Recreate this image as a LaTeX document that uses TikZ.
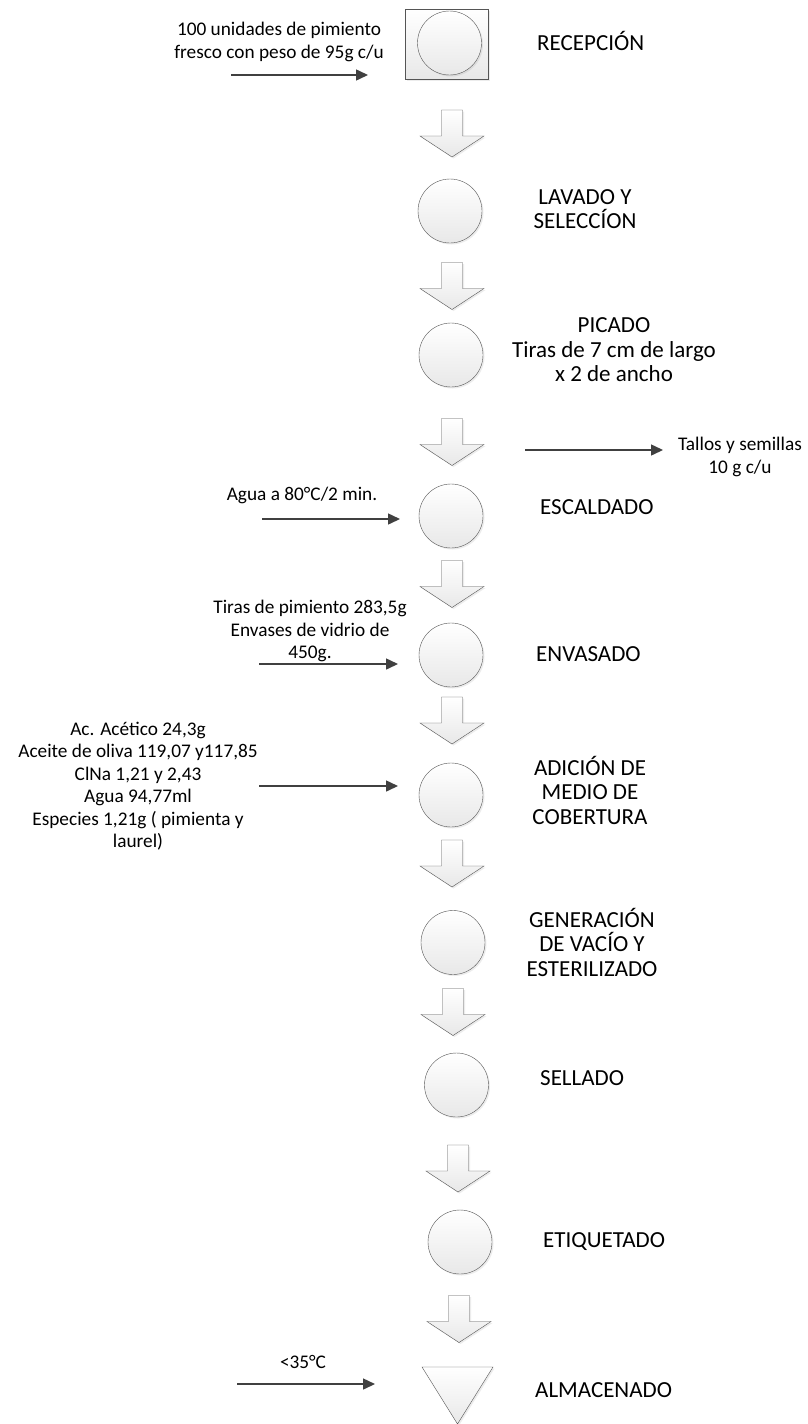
\documentclass[tikz,border=0pt]{standalone}
\usepackage{fontspec}
\setmainfont{Carlito}
\usepackage{tikz}
\usetikzlibrary{shapes,arrows,arrows.meta,calc,shadows}
\definecolor{linea}{HTML}{404040}
\definecolor{borde}{HTML}{555555}
\tikzstyle{line} = [draw=linea, line width=1.5pt, -{Triangle[length=12pt, width=11pt]}]
\tikzstyle{proc} = [draw=borde, circle, minimum size=64pt, inner sep=0pt, top color=white, bottom color=black!9, drop shadow={opacity=0.15, shadow xshift=1.5pt, shadow yshift=-1.5pt}]
\tikzstyle{caja} = [draw=borde, rectangle, minimum width=83pt, minimum height=70pt, top color=white, bottom color=black!9, drop shadow={opacity=0.15, shadow xshift=1.5pt, shadow yshift=-1.5pt}]
\tikzstyle{bloque} = [draw=borde, top color=white, bottom color=black!9, drop shadow={opacity=0.15, shadow xshift=1.5pt, shadow yshift=-1.5pt}]
\tikzstyle{etapa} = [font=\fontsize{23}{24.5}\selectfont, align=center, inner sep=0pt]
\tikzstyle{dato} = [font=\fontsize{19.3}{22.5}\selectfont, align=center, inner sep=0pt]
% flecha de bloque hacia abajo
\newcommand{\flecha}[1]{\path[bloque] (#1) ++(-10.5,-23.5) -- ++(21,0) -- ++(0,26) -- ++(21.5,0) -- ++(-32,21) -- ++(-32,-21) -- ++(21.5,0) -- cycle;}

\begin{document}
\begin{tikzpicture}[x=1pt, y=-1pt]
        \path[fill=white, use as bounding box] (0,0) rectangle (807,1424);
        % etapas
        \node[caja] (rbox) at (447,44) {};
        \node[proc] (rec) at (449.5,43) {};
        \node[proc, below of=rec, node distance=168pt, xshift=0.5pt] (lav) {};
        \node[proc, below of=lav, node distance=144pt, xshift=1pt] (pic) {};
        \node[proc, below of=pic, node distance=161pt] (esc) {};
        \node[proc, below of=esc, node distance=139pt] (env) {};
        \node[proc, below of=env, node distance=140pt] (adi) {};
        \node[proc, below of=adi, node distance=147.5pt, xshift=2pt] (gen) {};
        \node[proc, below of=gen, node distance=142.5pt, xshift=3.5pt] (sel) {};
        \node[proc, below of=sel, node distance=157pt, xshift=3.5pt] (eti) {};
        \coordinate (alm) at (457.5,1367);
        \path[bloque] (alm) ++(-35.5,0) -- ++(71,0) -- ++(-35.5,57) -- cycle;
        % flechas entre etapas
        \coordinate (a1) at (452,133.5);
        \coordinate (a2) at (452,286);
        \coordinate (a3) at (452,442);
        \coordinate (a4) at (452,584);
        \coordinate (a5) at (452,720.5);
        \coordinate (a6) at (452,863.5);
        \coordinate (a7) at (453,1012);
        \coordinate (a8) at (458,1168.5);
        \coordinate (a9) at (459,1319);
        \flecha{a1} \flecha{a2} \flecha{a3} \flecha{a4} \flecha{a5}
        \flecha{a6} \flecha{a7} \flecha{a8} \flecha{a9}
        % nombres
        \node[etapa, anchor=base west] (trec) at (537,50.5) {RECEPCIÓN};
        \node[etapa] (tlav) at (585,209) {LAVADO Y\\SELECCÍON};
        \node[etapa] (tpic) at (614,350) {PICADO\\Tiras de 7 cm de largo\\x 2 de ancho};
        \node[etapa, anchor=base west] (tesc) at (540,514) {ESCALDADO};
        \node[etapa, anchor=base west] (tenv) at (536,661) {ENVASADO};
        \node[etapa] (tadi) at (590,790) {ADICIÓN DE\\MEDIO DE\\COBERTURA};
        \node[etapa] (tgen) at (592,942) {GENERACIÓN\\DE VACÍO Y\\ESTERILIZADO};
        \node[etapa, anchor=base west] (tsel) at (540,1085) {SELLADO};
        \node[etapa, anchor=base west] (teti) at (543,1247) {ETIQUETADO};
        \node[etapa, anchor=base west] (talm) at (535,1397) {ALMACENADO};
        % entradas y salidas
        \coordinate (e1) at (231,75);
        \coordinate (f1) at (368,75);
        \coordinate (e2) at (262,519);
        \coordinate (f2) at (400,519);
        \coordinate (e3) at (259,664);
        \coordinate (f3) at (398,664);
        \coordinate (e4) at (259,786);
        \coordinate (f4) at (398,786);
        \coordinate (e5) at (237,1384);
        \coordinate (f5) at (375,1384);
        \coordinate (s1) at (525,450);
        \coordinate (t1) at (663,450);
        \node[dato] (d1) at (279,42) {100 unidades de pimiento\\fresco con peso de 95g c/u};
        \node[dato, anchor=base] (d2) at (302,500) {Agua a 80°C/2 min.};
        \node[dato] (d3) at (310,631) {Tiras de pimiento 283,5g\\Envases de vidrio de\\450g.};
        \node[dato] (d4) at (138,786) {Ac. Acético 24,3g\\Aceite de oliva 119,07 y117,85\\ClNa 1,21 y 2,43\\Agua 94,77ml\\Especies 1,21g ( pimienta y\\laurel)};
        \node[dato, anchor=base] (d5) at (303,1368) {<35°C};
        \node[dato] (r1) at (740,457) {Tallos y semillas\\10 g c/u};
        \path[line] (e1) -- (f1);
        \path[line] (e2) -- (f2);
        \path[line] (e3) -- (f3);
        \path[line] (e4) -- (f4);
        \path[line] (e5) -- (f5);
        \path[line] (s1) -- (t1);
    \end{tikzpicture}
\end{document}
